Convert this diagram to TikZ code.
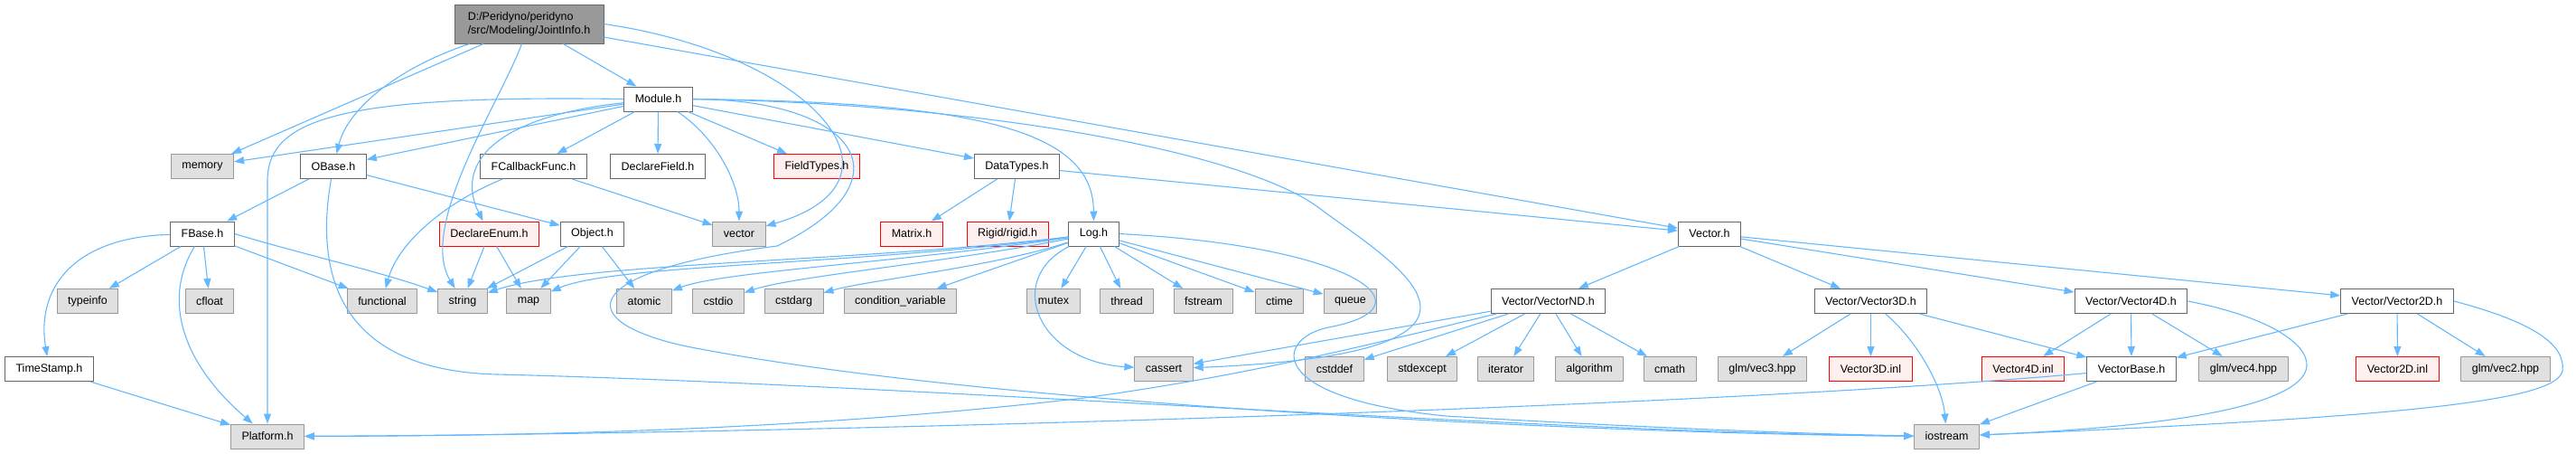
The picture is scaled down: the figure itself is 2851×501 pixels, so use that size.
\documentclass[tikz,border=0pt]{standalone}
\usepackage{fontspec}
\setmainfont{Liberation Sans}
\usepackage{tikz}
\usetikzlibrary{arrows.meta}
\definecolor{edgeBlue}{HTML}{63B8FF}
\definecolor{docBorder}{HTML}{666666}
\definecolor{sysFill}{HTML}{E0E0E0}
\definecolor{sysBorder}{HTML}{999999}
\definecolor{missFill}{HTML}{FFF0F0}
\definecolor{missBorder}{HTML}{FF0000}
\definecolor{rootFill}{HTML}{999999}
\tikzset{
  hdr/.style={draw=docBorder, fill=white, line width=1pt, minimum height=27pt,
    inner xsep=12pt, inner ysep=2pt, font=\fontsize{12.5}{15}\selectfont},
  sysHdr/.style={hdr, draw=sysBorder, fill=sysFill},
  missHdr/.style={hdr, draw=missBorder, fill=missFill},
  rootHdr/.style={hdr, fill=rootFill, align=left, minimum width=165pt, minimum height=43pt},
  dep/.style={draw=edgeBlue, line width=1.1pt, -{Triangle[length=11pt,width=8pt]}}
}

\begin{document}
\begin{tikzpicture}[x=1pt, y=-1pt]
	\useasboundingbox (0,0) rectangle (2851,501);
	% rank 0/1
	\node[rootHdr] (root) at (585.5,26.5) {D:/Peridyno/peridyno\\/src/Modeling/JointInfo.h};
	\node[hdr] (module) at (728.5,109.5) {Module.h};
	% rank 2
	\node[sysHdr] (memory) at (224,184) {memory};
	\node[hdr] (obase) at (369,184) {OBase.h};
	\node[hdr] (fcb) at (590.5,184) {FCallbackFunc.h};
	\node[hdr] (dfield) at (728,184) {DeclareField.h};
	\node[missHdr] (ftypes) at (904,184) {FieldTypes.h};
	\node[hdr] (dtypes) at (1125.5,184) {DataTypes.h};
	% rank 3
	\node[hdr] (fbase) at (224,258.5) {FBase.h};
	\node[missHdr] (denum) at (541.5,258.5) {DeclareEnum.h};
	\node[hdr] (object) at (655.5,258.5) {Object.h};
	\node[sysHdr] (vector) at (818,258.5) {vector};
	\node[missHdr] (matrix) at (1009,258.5) {Matrix.h};
	\node[missHdr] (rigid) at (1115,258.5) {Rigid/rigid.h};
	\node[hdr] (log) at (1210.5,258.5) {Log.h};
	\node[hdr] (vec) at (1892,258.5) {Vector.h};
	% rank 4
	\node[sysHdr] (typeinfo) at (97,333) {typeinfo};
	\node[sysHdr] (cfloat) at (232,333) {cfloat};
	\node[sysHdr] (functional) at (423,333) {functional};
	\node[sysHdr] (string) at (512,333) {string};
	\node[sysHdr] (map) at (585,333) {map};
	\node[sysHdr] (atomic) at (713,333) {atomic};
	\node[sysHdr] (cstdio) at (795,333) {cstdio};
	\node[sysHdr] (cstdarg) at (878.5,333) {cstdarg};
	\node[sysHdr] (condvar) at (996.5,333) {condition\_variable};
	\node[sysHdr] (mutex) at (1166,333) {mutex};
	\node[sysHdr] (thread) at (1247,333) {thread};
	\node[sysHdr] (fstream) at (1332,333) {fstream};
	\node[sysHdr] (ctime) at (1416,333) {ctime};
	\node[sysHdr] (queue) at (1494.5,333) {queue};
	\node[hdr] (vnd) at (1713.5,333) {Vector/VectorND.h};
	\node[hdr] (v3d) at (2070.5,333) {Vector/Vector3D.h};
	\node[hdr] (v4d) at (2358.5,333) {Vector/Vector4D.h};
	\node[hdr] (v2d) at (2653,333) {Vector/Vector2D.h};
	% rank 5
	\node[hdr] (tstamp) at (54.5,408) {TimeStamp.h};
	\node[sysHdr] (cassert) at (1288,408) {cassert};
	\node[sysHdr] (cstddef) at (1477,408) {cstddef};
	\node[sysHdr] (stdexcept) at (1574,408) {stdexcept};
	\node[sysHdr] (iterator) at (1666.5,408) {iterator};
	\node[sysHdr] (algorithm) at (1759,408) {algorithm};
	\node[sysHdr] (cmath) at (1848,408) {cmath};
	\node[sysHdr] (glmv3) at (1950.5,408) {glm/vec3.hpp};
	\node[missHdr] (v3inl) at (2070.5,408) {Vector3D.inl};
	\node[missHdr] (v4inl) at (2239,408) {Vector4D.inl};
	\node[hdr] (vbase) at (2359,408) {VectorBase.h};
	\node[sysHdr] (glmv4) at (2483,408) {glm/vec4.hpp};
	\node[missHdr] (v2inl) at (2653.5,408) {Vector2D.inl};
	\node[sysHdr] (glmv2) at (2773,408) {glm/vec2.hpp};
	% rank 6
	\node[sysHdr] (platform) at (296,482.5) {Platform.h};
	\node[sysHdr] (iostream) at (2154.5,482.5) {iostream};

	% JointInfo.h
	\draw[dep] (root) -- (memory);
	\draw[dep] (root) .. controls (440,75) and (385,120) .. (obase);
	\draw[dep] (root) .. controls (555,110) and (462,250) .. (string);
	\draw[dep] (root) -- (module);
	\draw[dep] (root.east) .. controls (900,60) and (1020,200) .. (vector);
	\draw[dep] (root) -- (vec);
	% Module.h
	\draw[dep] (module) -- (memory);
	\draw[dep] (module) -- (obase);
	\draw[dep] (module.west) .. controls (380,105) and (296,130) .. (296,200) -- (platform);
	\draw[dep] (module) .. controls (540,130) and (505,185) .. (denum);
	\draw[dep] (module) -- (fcb);
	\draw[dep] (module) -- (dfield);
	\draw[dep] (module) .. controls (790,150) and (818,200) .. (vector);
	\draw[dep] (module) -- (ftypes);
	\draw[dep] (module) -- (dtypes);
	\draw[dep] (module) .. controls (1100,112) and (1210,150) .. (log);
	\draw[dep] (module.east) .. controls (1100,115) and (1380,170) .. (1460,230)
		.. controls (1540,290) and (1720,390) .. (cassert);
	\draw[dep] (module.east) .. controls (950,110) and (1010,200) .. (860,272)
		.. controls (640,300) and (630,355) .. (760,383)
		.. controls (1100,450) and (1800,480) .. (iostream);
	% OBase.h, FBase.h
	\draw[dep] (obase) -- (fbase);
	\draw[dep] (obase) -- (object);
	\draw[dep] (obase) .. controls (345,320) and (390,410) .. (550,414)
		.. controls (1000,425) and (1700,478) .. (iostream);
	\draw[dep] (fbase) .. controls (80,262) and (40,320) .. (tstamp);
	\draw[dep] (fbase) -- (typeinfo);
	\draw[dep] (fbase) .. controls (180,330) and (200,400) .. (platform);
	\draw[dep] (fbase) -- (cfloat);
	\draw[dep] (fbase) -- (functional);
	\draw[dep] (fbase.east) .. controls (330,280) and (420,300) .. (string);
	\draw[dep] (tstamp) -- (platform);
	% FCallbackFunc.h, DeclareEnum.h, Object.h, DataTypes.h
	\draw[dep] (fcb) .. controls (490,225) and (440,270) .. (functional);
	\draw[dep] (fcb) -- (vector);
	\draw[dep] (denum) -- (string);
	\draw[dep] (denum) -- (map);
	\draw[dep] (object) -- (string);
	\draw[dep] (object) -- (map);
	\draw[dep] (object) -- (atomic);
	\draw[dep] (dtypes) -- (matrix);
	\draw[dep] (dtypes) -- (rigid);
	\draw[dep] (dtypes) -- (vec);
	% Log.h
	\draw[dep] (log) .. controls (950,290) and (640,290) .. (string);
	\draw[dep] (log) .. controls (950,293) and (680,292) .. (map);
	\draw[dep] (log) .. controls (1000,290) and (800,300) .. (atomic);
	\draw[dep] (log) .. controls (1050,290) and (880,305) .. (cstdio);
	\draw[dep] (log) .. controls (1100,295) and (960,310) .. (cstdarg);
	\draw[dep] (log) -- (condvar);
	\draw[dep] (log) -- (mutex);
	\draw[dep] (log) -- (thread);
	\draw[dep] (log) -- (fstream);
	\draw[dep] (log) -- (ctime);
	\draw[dep] (log) -- (queue);
	\draw[dep] (log) .. controls (1110,310) and (1150,400) .. (cassert);
	\draw[dep] (log.east) .. controls (1500,272) and (1590,340) .. (1470,362)
		.. controls (1410,375) and (1400,440) .. (1600,460)
		.. controls (1800,472) and (2000,480) .. (iostream);
	% Vector.h
	\draw[dep] (vec) -- (vnd);
	\draw[dep] (vec) -- (v3d);
	\draw[dep] (vec) -- (v4d);
	\draw[dep] (vec) -- (v2d);
	\draw[dep] (vnd) -- (cassert);
	\draw[dep] (vnd) -- (cstddef);
	\draw[dep] (vnd) -- (stdexcept);
	\draw[dep] (vnd) -- (iterator);
	\draw[dep] (vnd) -- (algorithm);
	\draw[dep] (vnd) -- (cmath);
	\draw[dep] (vnd) .. controls (1500,385) and (1380,415) .. (1200,440)
		.. controls (900,475) and (600,482) .. (platform);
	\draw[dep] (v3d) -- (glmv3);
	\draw[dep] (v3d) -- (v3inl);
	\draw[dep] (v3d) -- (vbase);
	\draw[dep] (v3d) .. controls (2125,380) and (2150,430) .. (iostream);
	\draw[dep] (v4d) -- (v4inl);
	\draw[dep] (v4d) -- (vbase);
	\draw[dep] (v4d) -- (glmv4);
	\draw[dep] (v4d.east) .. controls (2510,350) and (2555,380) .. (2553,405)
		.. controls (2550,440) and (2450,470) .. (iostream);
	\draw[dep] (v2d) -- (vbase);
	\draw[dep] (v2d) -- (v2inl);
	\draw[dep] (v2d) -- (glmv2);
	\draw[dep] (v2d.east) .. controls (2800,355) and (2840,380) .. (2836,410)
		.. controls (2830,440) and (2700,460) .. (iostream);
	\draw[dep] (vbase) -- (iostream);
	\draw[dep] (vbase) .. controls (1900,450) and (900,480) .. (platform);
\end{tikzpicture}
\end{document}
